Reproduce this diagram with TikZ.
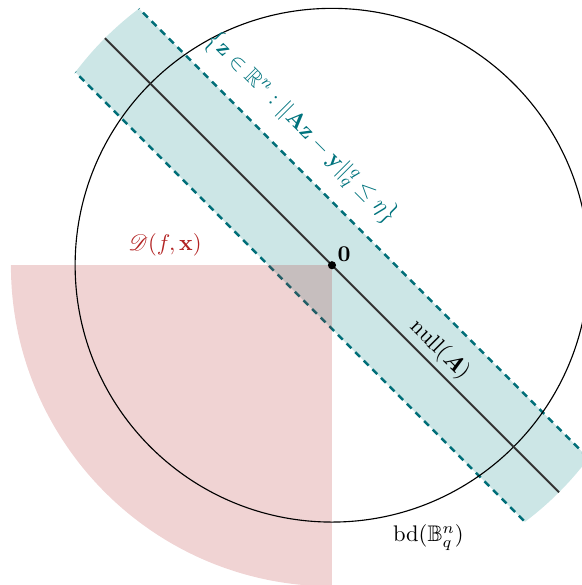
\documentclass[tikz,border=0pt]{standalone}
\usepackage{amsmath,amssymb,mathrsfs}
\definecolor{cone}{RGB}{178,34,34}
\definecolor{bandc}{RGB}{0,128,128}
\definecolor{dashc}{RGB}{0,110,120}
\definecolor{labc}{RGB}{0,115,125}
\tikzset{
  bandfill/.style={fill=bandc,fill opacity=0.2},
  conefill/.style={fill=cone,fill opacity=0.2},
  bandedge/.style={draw=dashc,line width=1.1pt,dash pattern=on 3pt off 2.4pt},
  nullline/.style={draw=black!80,line width=0.9pt},
  ball/.style={draw=black,line width=0.5pt},
  lab/.style={inner sep=1pt}
}
\begin{document}
\begin{tikzpicture}[x=1cm,y=1cm]
\useasboundingbox (-5.17,-4.98) rectangle (3.89,4.13);
% band
\begin{scope}
  \clip (0,0) circle (5);
  \fill[bandfill,rotate=-45] (-6,-0.7) rectangle (6,0.7);
  \draw[bandedge,rotate=-45] (-6,0.7) -- (6,0.7);
  \draw[bandedge,rotate=-45] (-6,-0.7) -- (6,-0.7);
\end{scope}
% cone
\fill[conefill] (0,0) -- (-5,0) arc[start angle=180,end angle=270,radius=5] -- cycle;
% ball
\draw[ball] (0,0) circle (4);
% null space
\coordinate (nA) at (-3.5355,3.5355);
\coordinate (nB) at (3.5355,-3.5355);
\draw[nullline] (nA) -- (nB);
\fill (0,0) circle (1.8pt);
% labels
\node[lab] (zero) at (0.19,0.17) {$\mathbf{0}$};
\node[lab,rotate=-45] (nulllab) at (1.68,-1.32) {null$(\boldsymbol{A})$};
\node[lab] (bdlab) at (1.50,-4.24) {bd$(\mathbb{B}_q^n)$};
\node[lab,text=cone] (dlab) at (-2.6,0.31) {$\mathscr{D}(f,\mathbf{x})$};
\node[lab,text=labc,rotate=-45] (setlab) at (-0.47,2.13)
  {$\left\{\mathbf{z}\in\mathbb{R}^n : \|\mathbf{A}\mathbf{z}-\mathbf{y}\|_q^q\le\eta\right\}$};
\end{tikzpicture}
\end{document}
